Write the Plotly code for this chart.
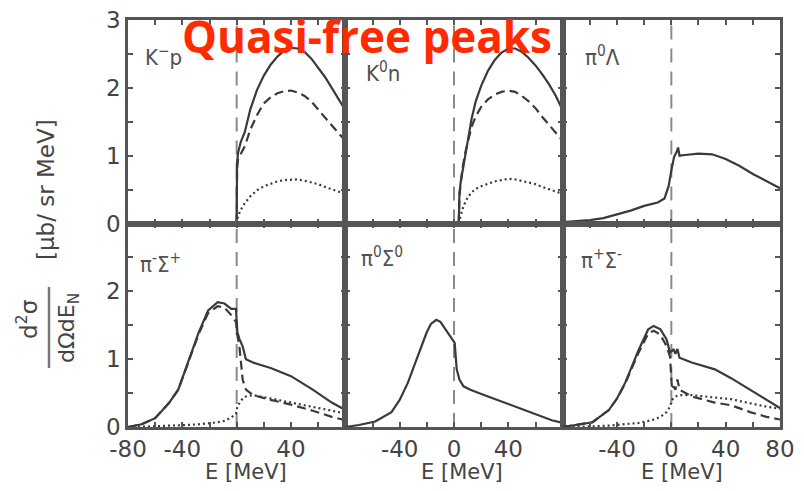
import plotly.graph_objects as go

# ---------------- data ----------------
# Panel 1: K- p
kp_E      = [0, 0.3, 1, 3, 6, 10, 15, 20, 25, 30, 35, 40, 45, 50, 55, 60, 65, 70, 75, 80]
kp_total  = [0, 0.9, 1.04, 1.2, 1.35, 1.68, 1.97, 2.18, 2.34, 2.46, 2.55, 2.59, 2.58, 2.53, 2.43, 2.3, 2.16, 2.0, 1.84, 1.67]
kp_dash   = [0, 0.8, 0.95, 1.02, 1.14, 1.38, 1.6, 1.77, 1.86, 1.92, 1.95, 1.96, 1.93, 1.88, 1.8, 1.68, 1.56, 1.45, 1.33, 1.22]
kp_dot    = [0, 0.05, 0.11, 0.2, 0.3, 0.4, 0.49, 0.55, 0.59, 0.62, 0.64, 0.65, 0.65, 0.63, 0.61, 0.58, 0.54, 0.5, 0.47, 0.44]

# Panel 2: K0 n
k0n_E     = [3.5, 4, 5, 6, 8, 10, 13, 16, 20, 25, 30, 35, 40, 45, 50, 55, 60, 65, 70, 75, 80]
k0n_total = [0, 0.45, 0.62, 0.75, 0.95, 1.2, 1.55, 1.8, 2.03, 2.25, 2.41, 2.52, 2.58, 2.58, 2.53, 2.44, 2.33, 2.2, 2.05, 1.88, 1.67]
k0n_dash  = [0, 0.4, 0.6, 0.78, 1.02, 1.2, 1.43, 1.58, 1.72, 1.83, 1.9, 1.94, 1.96, 1.94, 1.88, 1.8, 1.7, 1.57, 1.45, 1.33, 1.22]
k0n_dot   = [0, 0.05, 0.13, 0.2, 0.3, 0.38, 0.46, 0.51, 0.55, 0.59, 0.62, 0.64, 0.66, 0.65, 0.63, 0.61, 0.58, 0.54, 0.5, 0.47, 0.44]

# Panel 3: pi0 Lambda
pl_E      = [-80, -70, -60, -50, -40, -30, -20, -10, -5, -2, 0, 2, 4, 5, 6, 8, 10, 20, 30, 40, 50, 60, 70, 80]
pl_total  = [0.02, 0.03, 0.05, 0.08, 0.13, 0.19, 0.26, 0.31, 0.37, 0.55, 0.78, 0.98, 1.06, 1.12, 1.0, 1.0, 1.01, 1.03, 1.02, 0.95, 0.85, 0.73, 0.62, 0.52]

# Panel 4: pi- Sigma+
pmsp_E      = [-80, -70, -60, -50, -43, -36, -28, -21, -14, -9, -4, -0.5, 0.5, 2, 4.4, 6.8, 12, 25, 40, 56, 70, 80]
pmsp_total  = [0.0, 0.04, 0.13, 0.35, 0.55, 0.93, 1.39, 1.72, 1.84, 1.82, 1.74, 1.74, 1.4, 1.3, 1.19, 1.0, 0.95, 0.87, 0.75, 0.55, 0.36, 0.25]
pmsp_dash   = [0.0, 0.04, 0.13, 0.35, 0.55, 0.92, 1.37, 1.68, 1.78, 1.76, 1.65, 1.55, 1.35, 1.19, 0.7, 0.55, 0.47, 0.4, 0.33, 0.24, 0.15, 0.1]
pmsp_dot    = [0.0, 0.0, 0.01, 0.02, 0.02, 0.03, 0.04, 0.05, 0.07, 0.09, 0.14, 0.2, 0.3, 0.35, 0.42, 0.45, 0.47, 0.42, 0.36, 0.3, 0.24, 0.2]

# Panel 5: pi0 Sigma0
p0s0_E     = [-80, -70, -58, -46, -40, -34, -29, -25, -20, -17, -13, -10, -8, -4, -1.5, 0.5, 2, 4, 7, 12, 25, 38, 50, 62, 72, 80]
p0s0_total = [0.0, 0.03, 0.08, 0.22, 0.4, 0.65, 0.92, 1.14, 1.4, 1.52, 1.58, 1.55, 1.49, 1.38, 1.29, 1.24, 0.85, 0.7, 0.6, 0.55, 0.45, 0.35, 0.26, 0.17, 0.1, 0.06]

# Panel 6: pi+ Sigma-
ppsm_E      = [-80, -70, -58, -46, -40, -34, -29, -24, -17, -13, -8, -3.5, -1, 0.5, 1.5, 3, 4.5, 6, 15, 32, 44, 58, 70, 80]
ppsm_total  = [0.0, 0.03, 0.07, 0.25, 0.42, 0.65, 0.9, 1.14, 1.44, 1.49, 1.44, 1.29, 1.1, 1.12, 1.15, 1.08, 1.15, 1.02, 0.95, 0.85, 0.72, 0.55, 0.4, 0.28]
ppsm_dash   = [0.0, 0.03, 0.07, 0.25, 0.42, 0.64, 0.88, 1.1, 1.38, 1.42, 1.36, 1.19, 1.04, 0.55, 0.6, 0.55, 0.7, 0.55, 0.45, 0.36, 0.32, 0.22, 0.15, 0.11]
ppsm_dot    = [0.0, 0.0, 0.01, 0.02, 0.03, 0.04, 0.05, 0.06, 0.09, 0.11, 0.15, 0.22, 0.3, 0.4, 0.42, 0.45, 0.46, 0.47, 0.47, 0.43, 0.41, 0.35, 0.3, 0.27]

panel_labels = ["K<sup>−</sup>p", "K<sup>0</sup>n", "π<sup>0</sup>Λ",
                "π<sup>-</sup>Σ<sup>+</sup>", "π<sup>0</sup>Σ<sup>0</sup>", "π<sup>+</sup>Σ<sup>-</sup>"]
x_tickvals = [-80, -60, -40, -20, 0, 20, 40, 60, 80]
x_ticktext = {
    4: ["-80", "", "-40", "", "0", "", "40", "", ""],
    5: ["", "", "-40", "", "0", "", "40", "", ""],
    6: ["", "", "-40", "", "0", "", "40", "", "80"],
}
y_tickvals = [0, 0.5, 1, 1.5, 2, 2.5, 3]
y_ticktext = {
    1: ["0", "", "1", "", "2", "", "3"],
    4: ["0", "", "1", "", "2", "", ""],
}
title_text = "Quasi-free peaks"
x_title = "E [MeV]"

# ---------------- figure ----------------
W, H = 804, 491
OFF = 8  # page body margin in the browser
ML, MT = 128 - OFF, 20 - OFF
MB = H - (427 - OFF)
MR = W - (780 - OFF)
PW, PH = W - ML - MR, H - MT - MB

def px(x):
    return (x - OFF - ML) / PW

def py(y):
    return (H - MB - (y - OFF)) / PH

LINE = "#3a3a3a"
FRAME = "#555555"
TICKC = "#444444"
FONT = "DejaVu Sans"

fig = go.Figure()

def add(panel, E, vals, dash):
    ax = "" if panel == 1 else str(panel)
    fig.add_trace(go.Scatter(
        x=E, y=vals, mode="lines", xaxis="x" + ax, yaxis="y" + ax,
        line=dict(color=LINE, width=2.2, dash=dash), showlegend=False, hoverinfo="skip"))

def vline(panel):
    ax = "" if panel == 1 else str(panel)
    fig.add_trace(go.Scatter(
        x=[0, 0], y=[0, 3], mode="lines", xaxis="x" + ax, yaxis="y" + ax,
        line=dict(color="#8a8a8a", width=2, dash="14px,9px"), showlegend=False, hoverinfo="skip"))

for p in range(1, 7):
    vline(p)

SOLID, DASH, DOT = "solid", "9px,5px", "2px,3px"
add(1, kp_E, kp_dot, DOT); add(1, kp_E, kp_dash, DASH); add(1, kp_E, kp_total, SOLID)
add(2, k0n_E, k0n_dot, DOT); add(2, k0n_E, k0n_dash, DASH); add(2, k0n_E, k0n_total, SOLID)
add(3, pl_E, pl_total, SOLID)
add(4, pmsp_E, pmsp_dot, DOT); add(4, pmsp_E, pmsp_dash, DASH); add(4, pmsp_E, pmsp_total, SOLID)
add(5, p0s0_E, p0s0_total, SOLID)
add(6, ppsm_E, ppsm_dot, DOT); add(6, ppsm_E, ppsm_dash, DASH); add(6, ppsm_E, ppsm_total, SOLID)

layout = dict(
    width=W, height=H,
    margin=dict(l=ML, r=MR, t=MT, b=MB, autoexpand=False),
    paper_bgcolor="white", plot_bgcolor="white",
    font=dict(family=FONT, color=TICKC),
    showlegend=False,
)

xdoms = [[0, 1/3], [1/3, 2/3], [2/3, 1]]
ydoms = [[0.5, 1], [0, 0.5]]
for p in range(1, 7):
    col = (p - 1) % 3
    row = (p - 1) // 3
    ax = "" if p == 1 else str(p)
    xa = dict(
        domain=xdoms[col], range=[-80, 80], anchor="y" + ax, automargin=False,
        showline=True, linecolor=FRAME, linewidth=2.5, mirror="ticks",
        ticks="inside", ticklen=5, tickwidth=1.5, tickcolor=FRAME,
        tickvals=x_tickvals, showgrid=False, zeroline=False,
        ticklabeloverflow="allow",
        tickfont=dict(family=FONT, size=23, color=TICKC),
    )
    if p in x_ticktext:
        xa.update(ticktext=x_ticktext[p], showticklabels=True, ticklabelstandoff=0)
    else:
        xa.update(showticklabels=False)
    ya = dict(
        domain=ydoms[row], range=[0, 3], anchor="x" + ax, automargin=False,
        showline=True, linecolor=FRAME, linewidth=2.5, mirror="ticks",
        ticks="inside", ticklen=5, tickwidth=1.5, tickcolor=FRAME,
        tickvals=y_tickvals, showgrid=False, zeroline=False,
        ticklabeloverflow="allow",
        tickfont=dict(family=FONT, size=23, color=TICKC),
    )
    if p in y_ticktext:
        ya.update(ticktext=y_ticktext[p], showticklabels=True, ticklabelstandoff=0)
    else:
        ya.update(showticklabels=False)
    layout["xaxis" + ax] = xa
    layout["yaxis" + ax] = ya

fig.update_layout(**layout)

annotations = []
label_pos = [(163, 56), (383, 72), (602, 56), (160, 263), (382, 257), (601, 259)]
for lab, (lx, ly) in zip(panel_labels, label_pos):
    annotations.append(dict(
        text=lab, x=px(lx), y=py(ly), xref="paper", yref="paper",
        showarrow=False, xanchor="center", yanchor="middle",
        font=dict(family="DejaVu Sans Condensed", size=22, color="#505050")))

for cx in (246, 462, 682):
    annotations.append(dict(
        text=x_title, x=px(cx), y=py(472), xref="paper", yref="paper",
        showarrow=False, xanchor="center", yanchor="middle",
        font=dict(family=FONT, size=21, color=TICKC)))

# y-axis title
annotations.append(dict(
    text="[μb/ sr MeV]", x=px(46), y=py(190), xref="paper", yref="paper",
    showarrow=False, textangle=-90, xanchor="center", yanchor="middle",
    font=dict(family=FONT, size=23, color=TICKC)))
annotations.append(dict(
    text="d<sup>2</sup>σ", x=px(27), y=py(320), xref="paper", yref="paper",
    showarrow=False, textangle=-90, xanchor="center", yanchor="middle",
    font=dict(family=FONT, size=23, color=TICKC)))
annotations.append(dict(
    text="dΩdE<sub>N</sub>", x=px(68), y=py(328), xref="paper", yref="paper",
    showarrow=False, textangle=-90, xanchor="center", yanchor="middle",
    font=dict(family=FONT, size=22, color=TICKC)))

# title
annotations.append(dict(
    text="<b>" + title_text + "</b>", x=px(367), y=py(36), xref="paper", yref="paper",
    showarrow=False, xanchor="center", yanchor="middle",
    font=dict(family="Open Sans", size=44, color="#ff2a00")))

fig.update_layout(annotations=annotations)
fig.add_shape(type="line", xref="paper", yref="paper",
              x0=px(49), x1=px(49), y0=py(287), y1=py(368),
              line=dict(color="#777777", width=2.5))

fig.write_html("out.html")
